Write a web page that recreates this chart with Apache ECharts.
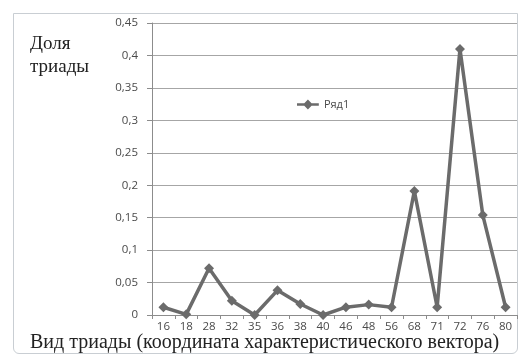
<!DOCTYPE html>
<html>
<head>
<meta charset="utf-8">
<script src="https://cdn.jsdelivr.net/npm/echarts@6/dist/echarts.min.js"></script>
<style>
  html, body { margin: 0; padding: 0; background: #fff; }
  #frame { position: absolute; left: 13px; top: 13px; width: 505px; height: 341px;
           border: 1px solid #c9ced3; border-radius: 0 0 6px 6px; box-sizing: border-box; }
  #chart { position: absolute; left: 0; top: 0; width: 521px; height: 363px; }
</style>
</head>
<body>
<div id="frame"></div>
<div id="chart"></div>
<script>
// Triad kinds (characteristic vector coordinate)
const categories = ['16', '18', '28', '32', '35', '36', '38', '40', '46', '48', '56', '68', '71', '72', '76', '80'];
// Share of each triad
const shares = [0.012, 0.001, 0.072, 0.022, 0.0, 0.038, 0.017, 0.0, 0.012, 0.016, 0.012, 0.191, 0.012, 0.41, 0.154, 0.012];
const seriesName = 'Ряд1';
const yTicks = { min: 0, max: 0.45, interval: 0.05 };

const chart = echarts.init(document.getElementById('chart'));
const labelColor = '#4a4a4a';
chart.setOption({
  animation: false,
  grid: { left: 152, right: 4, top: 23, bottom: 48 },
  legend: {
    data: [{ name: seriesName, icon: 'path://M0,4 L8,4 L12,0 L16,4 L24,4 L24,7 L16,7 L12,11 L8,7 L0,7 Z' }],
    left: 292, top: 94, itemWidth: 22, itemHeight: 10, itemGap: 3,
    textStyle: { fontFamily: 'Open Sans', fontSize: 11, color: labelColor }
  },
  xAxis: {
    type: 'category', data: categories, boundaryGap: true,
    axisLine: { lineStyle: { color: '#8c8c8c', width: 1 } },
    axisTick: { show: true, length: 4, lineStyle: { color: '#8c8c8c' } },
    axisLabel: { fontFamily: 'Open Sans', fontSize: 11.5, color: labelColor, margin: 6, interval: 0 }
  },
  yAxis: {
    type: 'value', min: yTicks.min, max: yTicks.max, interval: yTicks.interval,
    axisLine: { show: true, lineStyle: { color: '#8c8c8c', width: 1 } },
    axisTick: { show: true, length: 5, lineStyle: { color: '#8c8c8c' } },
    splitLine: { lineStyle: { color: '#a6a6a6', width: 1 } },
    axisLabel: {
      fontFamily: 'Open Sans', fontSize: 11.5, color: labelColor, margin: 14,
      formatter: v => String(Math.round(v * 100) / 100).replace('.', ',')
    }
  },
  series: [{
    name: seriesName, type: 'line', data: shares,
    symbol: 'diamond', symbolSize: 10,
    lineStyle: { color: '#6b6b6b', width: 3.5 },
    itemStyle: { color: '#6b6b6b' }
  }],
  graphic: [
    { type: 'text', left: 30, top: 33, style: { text: 'Доля\nтриады', font: '19px "Liberation Serif"', fill: '#222', lineHeight: 23 } },
    { type: 'text', left: 30, top: 333, style: { text: 'Вид триады (координата характеристического вектора)', font: '20px "Liberation Serif"', fill: '#222' } }
  ]
});
</script>
</body>
</html>
